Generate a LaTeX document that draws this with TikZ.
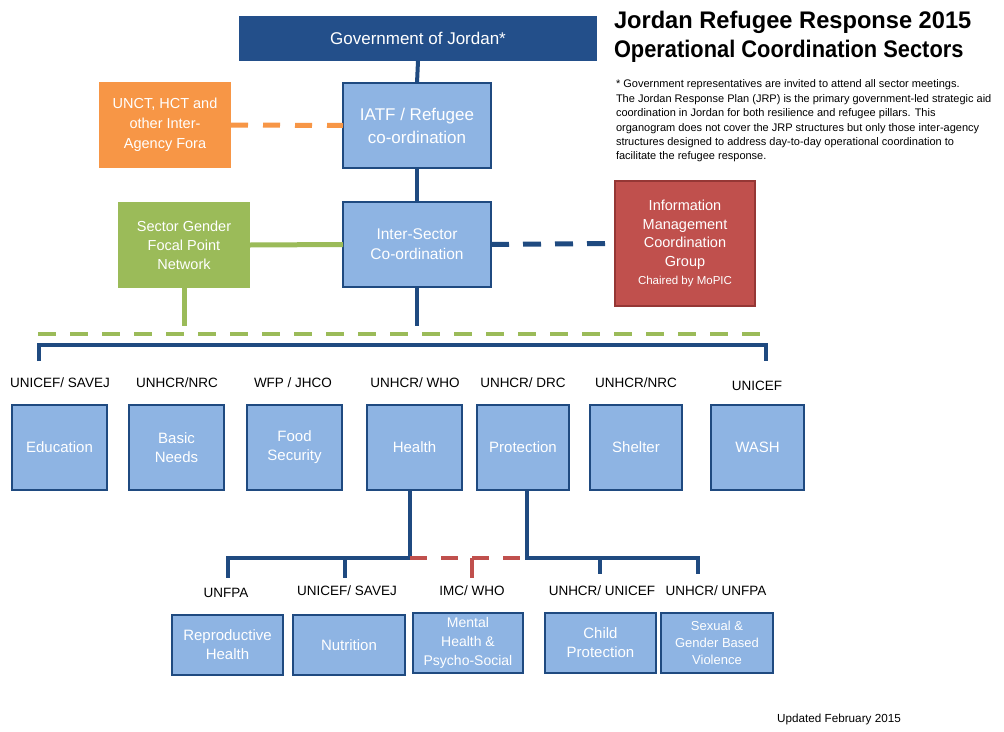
\documentclass[tikz,border=0pt]{standalone}
\usepackage{fontspec}
\usepackage{graphicx}
\setmainfont{Liberation Sans}
\definecolor{navy}{HTML}{1F4A80}
\definecolor{govblue}{HTML}{234F8A}
\definecolor{lblue}{HTML}{8EB4E3}
\definecolor{orng}{HTML}{F79646}
\definecolor{grn}{HTML}{9BBB59}
\definecolor{rd}{HTML}{C0504D}
\definecolor{rdborder}{HTML}{953735}
\begin{document}
\begin{tikzpicture}[x=1pt,y=-1pt,
  every node/.style={inner sep=0pt, outer sep=0pt},
  bluebox/.style={draw=navy, line width=2.5pt, fill=lblue, text=white, align=center, anchor=north west, font=\fontsize{15}{19}\selectfont},
  colbox/.style={text=white, align=center, anchor=north west, font=\fontsize{14.5}{19}\selectfont},
  lead/.style={font=\fontsize{13.5}{16}\selectfont, text=black},
  navyline/.style={draw=navy, line width=4pt},
  navydash/.style={draw=navy, line width=5pt, dash pattern=on 18pt off 14pt},
  greenline/.style={draw=grn, line width=5pt},
  greendash/.style={draw=grn, line width=4pt, dash pattern=on 18pt off 14pt},
  orangedash/.style={draw=orng, line width=5pt, dash pattern=on 17pt off 15pt},
  reddash/.style={draw=rd, line width=4pt, dash pattern=on 17pt off 14pt},
]
\useasboundingbox[fill=white] (0,0) rectangle (1004,731);

% top level
\node[fill=govblue, text=white, anchor=north west, minimum width=358, minimum height=45, font=\fontsize{17}{20}\selectfont] (gov) at (239,16) {Government of Jordan*};
\node[bluebox, minimum width=148, minimum height=85, font=\fontsize{17}{23}\selectfont] (iatf) at (343,83) {IATF / Refugee\\co-ordination};
\node[colbox, fill=orng, minimum width=132, minimum height=86, font=\fontsize{14.5}{20}\selectfont] (unct) at (99,82) {UNCT, HCT and\\other Inter-\\Agency Fora};
\node[bluebox, minimum width=148, minimum height=85, font=\fontsize{15.5}{20}\selectfont] (inter) at (343,202) {Inter-Sector\\Co-ordination};
\node[colbox, fill=grn, minimum width=132, minimum height=86] (gender) at (118,202) {Sector Gender\\Focal Point\\Network};
\node[colbox, fill=rd, draw=rdborder, line width=1.5pt, minimum width=140, minimum height=125, font=\fontsize{14.5}{18.5}\selectfont] (imcg) at (615,181) {Information\\Management\\Coordination\\Group\\{\fontsize{11.5}{14}\selectfont Chaired by MoPIC}};

% title and note
\node[anchor=west, font=\fontsize{24}{28}\bfseries\selectfont] (t1) at (614,22) {\scalebox{0.985}[1]{Jordan Refugee Response 2015}};
\node[anchor=west, font=\fontsize{24}{28}\bfseries\selectfont] (t2) at (614,51) {\scalebox{0.91}[1]{Operational Coordination Sectors}};
\node[anchor=north west, align=left, font=\fontsize{11}{14.4}\selectfont] (note) at (616,80) {* Government representatives are invited to attend all sector meetings.\\The Jordan Response Plan (JRP) is the primary government-led strategic aid\\coordination in Jordan for both resilience and refugee pillars. This\\organogram does not cover the JRP structures but only those inter-agency\\structures designed to address day-to-day operational coordination to\\facilitate the refugee response.};
\node[font=\fontsize{11.7}{13}\selectfont] (upd) at (839,719) {Updated February 2015};

% upper connectors
\draw[navyline] (gov.south) -- (iatf.north);
\draw[navyline] (iatf.south) -- (inter.north);
\draw[orangedash] (unct.east) -- (iatf.west);
\draw[greenline] (gender.east) -- (inter.west);
\draw[navydash] (inter.east) -- (imcg.west);
\coordinate (gdrop) at (184,326);
\draw[greenline] (gender.south) -- (gdrop);
\coordinate (idrop) at (417,326);
\draw[navyline] (inter.south) -- (idrop);
\coordinate (gl) at (38,334);
\coordinate (gr) at (768,334);
\draw[greendash] (gl) -- (gr);
\coordinate (bl) at (39,361);
\coordinate (br) at (766,361);
\draw[navyline] (bl) -- (39,345) -- (766,345) -- (br);

% sector labels
\node[lead] (l1) at (60,383) {UNICEF/ SAVEJ};
\node[lead] (l2) at (177,383) {UNHCR/NRC};
\node[lead] (l3) at (293,383) {WFP / JHCO};
\node[lead] (l4) at (415,383) {UNHCR/ WHO};
\node[lead] (l5) at (523,383) {UNHCR/ DRC};
\node[lead] (l6) at (636,383) {UNHCR/NRC};
\node[lead] (l7) at (757,386) {UNICEF};

% sectors
\node[bluebox, minimum width=95, minimum height=85] (edu) at (12,405) {Education};
\node[bluebox, minimum width=95, minimum height=85] (basic) at (129,405) {Basic\\Needs};
\node[bluebox, minimum width=95, minimum height=85] (food) at (247,405) {Food\\Security};
\node[bluebox, minimum width=95, minimum height=85] (health) at (367,405) {Health};
\node[bluebox, minimum width=92, minimum height=85] (prot) at (477,405) {Protection};
\node[bluebox, minimum width=92, minimum height=85] (shelter) at (590,405) {Shelter};
\node[bluebox, minimum width=93, minimum height=85] (wash) at (711,405) {WASH};

% sub-sector connectors
\coordinate (hj) at (410,558);
\coordinate (pj) at (527,558);
\coordinate (d1) at (228,578);
\coordinate (d2) at (345,578);
\coordinate (d3) at (472,578);
\coordinate (d4) at (600,574);
\coordinate (d5) at (698,574);
\draw[navyline] (410,490) -- (hj) -- (228,558) -- (d1);
\draw[navyline] (345,558) -- (d2);
\draw[navyline] (527,490) -- (pj) -- (698,558) -- (d5);
\draw[navyline] (600,558) -- (d4);
\draw[reddash] (hj) -- (pj);
\draw[draw=rd, line width=4pt] (472,558) -- (d3);

% sub-sector labels
\node[lead] (s1) at (226,593) {UNFPA};
\node[lead] (s2) at (347,591) {UNICEF/ SAVEJ};
\node[lead] (s3) at (472,591) {IMC/ WHO};
\node[lead] (s4) at (602,591) {UNHCR/ UNICEF};
\node[lead] (s5) at (716,591) {UNHCR/ UNFPA};

% sub-sectors
\node[bluebox, minimum width=111, minimum height=60] (repro) at (172,615) {Reproductive\\Health};
\node[bluebox, minimum width=112, minimum height=60] (nutri) at (293,615) {Nutrition};
\node[bluebox, minimum width=110, minimum height=60, font=\fontsize{14}{19}\selectfont] (mental) at (413,613) {Mental\\Health \&\\Psycho-Social};
\node[bluebox, minimum width=111, minimum height=60] (child) at (545,613) {Child\\Protection};
\node[bluebox, minimum width=112, minimum height=60, font=\fontsize{13}{17}\selectfont] (sgbv) at (661,613) {Sexual \&\\Gender Based\\Violence};
\end{tikzpicture}
\end{document}
